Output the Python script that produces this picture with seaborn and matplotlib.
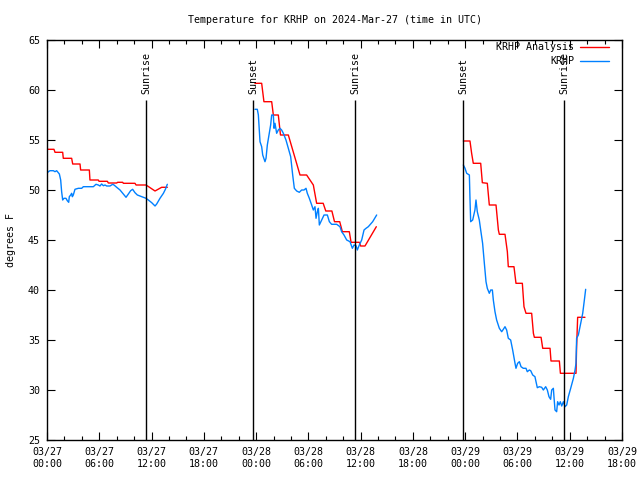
import matplotlib
matplotlib.use("Agg")
import matplotlib.pyplot as plt
import matplotlib.dates as mdates
from matplotlib.lines import Line2D
import seaborn as sns
import pandas as pd

# horas desde 2024-03-27 00:00 UTC
inicio = pd.Timestamp("2024-03-27 00:00")

# KRHP Analysis (rojo), tres tramos
ana_h1 = [0.0, 0.8, 0.92, 1.8, 1.87, 2.83, 2.95, 3.79, 3.86, 4.86, 4.93, 5.89, 5.97, 6.93,
          7.04, 8.0, 8.11, 8.69, 8.76, 10.1, 10.22, 11.37, 12.4, 13.16, 13.81]
ana_t1 = [54.07, 54.07, 53.77, 53.77, 53.17, 53.17, 52.6, 52.6, 52.0, 52.0, 51.0, 51.0, 50.87, 50.87,
          50.7, 50.7, 50.77, 50.77, 50.67, 50.67, 50.5, 50.5, 49.9, 50.27, 50.27]
ana_h2 = [23.87, 24.64, 24.9, 25.79, 25.98, 26.55, 26.8, 27.7, 29.04, 29.8, 30.57, 30.95, 31.7,
          32.0, 32.7, 33.0, 33.6, 33.9, 34.7, 34.9, 35.85, 36.0, 36.5, 37.8]
ana_t2 = [60.67, 60.67, 58.83, 58.83, 57.5, 57.5, 55.5, 55.5, 51.5, 51.5, 50.5, 48.67, 48.67,
          47.9, 47.9, 46.83, 46.83, 45.83, 45.83, 44.77, 44.77, 44.4, 44.4, 46.33]
ana_h3 = [47.79, 48.55, 48.74, 48.93, 49.78, 49.97, 50.54, 50.77, 51.54, 51.81, 51.92, 52.57,
          52.84, 52.95, 53.6, 53.83, 54.56, 54.75, 54.98, 55.63, 55.83, 55.94, 56.71, 56.9,
          57.74, 57.85, 58.81, 58.93, 60.72, 60.79, 60.91, 61.75]
ana_t3 = [54.9, 54.9, 53.67, 52.67, 52.67, 50.73, 50.67, 48.5, 48.5, 46.0, 45.57, 45.57,
          43.83, 42.33, 42.33, 40.67, 40.67, 38.33, 37.67, 37.67, 35.67, 35.27, 35.27, 34.17,
          34.17, 32.9, 32.9, 31.67, 31.67, 34.33, 37.27, 37.27]

# KRHP observado (azul), tres tramos
obs_h1 = [0.0, 0.15, 0.34, 0.73, 0.92, 1.11, 1.42, 1.57, 1.68, 1.8, 1.95, 2.18, 2.33, 2.49,
          2.56, 2.72, 2.83, 2.91, 3.02, 3.21, 3.6, 3.98, 4.17, 5.32, 5.62, 5.89, 6.08, 6.27,
          6.47, 6.66, 6.85, 7.23, 7.54, 7.69, 8.0, 8.38, 8.76, 9.07, 9.34, 9.6, 9.83, 10.1,
          10.37, 10.67, 11.06, 11.37, 11.63, 12.02, 12.4, 12.59, 12.97, 13.36, 13.59, 13.81]
obs_t1 = [51.67, 51.83, 51.93, 51.93, 51.83, 51.93, 51.6, 51.0, 49.83, 49.0, 49.17, 49.17, 48.93, 48.77,
          49.33, 49.5, 49.67, 49.33, 49.5, 50.07, 50.17, 50.17, 50.33, 50.33, 50.57, 50.5, 50.4, 50.6,
          50.43, 50.5, 50.4, 50.4, 50.57, 50.5, 50.27, 50.0, 49.6, 49.27, 49.6, 49.93, 50.07, 49.73,
          49.5, 49.4, 49.27, 49.17, 49.0, 48.73, 48.4, 48.6, 49.17, 49.67, 50.07, 50.57]
obs_h2 = [23.87, 24.14, 24.26, 24.45, 24.64, 24.76, 25.02, 25.14, 25.29, 25.48, 25.67, 25.79,
          25.98, 26.06, 26.17, 26.36, 26.55, 26.74, 26.93, 27.13, 27.43, 27.7, 27.97, 28.2,
          28.39, 28.66, 28.96, 29.23, 29.5, 29.73, 29.88, 30.11, 30.38, 30.57, 30.76, 30.88,
          31.03, 31.15, 31.26, 31.53, 31.8, 32.18, 32.41, 32.67, 33.25, 33.63, 33.82, 34.09,
          34.4, 34.78, 35.05, 35.24, 35.47, 35.62, 35.85, 36.12, 36.39, 36.62, 36.88, 37.38, 37.84]
obs_t2 = [58.07, 58.07, 57.5, 54.83, 54.33, 53.5, 52.83, 53.17, 54.5, 55.5, 56.5, 57.5,
          57.5, 56.17, 56.67, 55.67, 56.0, 56.17, 56.0, 55.67, 55.0, 54.17, 53.33, 51.5,
          50.17, 49.9, 49.77, 50.0, 50.0, 50.17, 49.67, 49.17, 48.5, 48.0, 48.33, 47.17,
          47.83, 48.17, 46.5, 47.0, 47.5, 47.5, 46.83, 46.57, 46.57, 46.33, 45.83, 45.5,
          45.0, 44.83, 44.17, 44.5, 44.43, 44.0, 44.5, 45.0, 46.0, 46.17, 46.33, 46.83, 47.5]
obs_h3 = [47.79, 47.98, 48.17, 48.48, 48.55, 48.63, 48.86, 49.12, 49.24, 49.39, 49.62, 49.78,
          50.0, 50.2, 50.39, 50.54, 50.77, 50.93, 51.12, 51.23, 51.42, 51.61, 51.92, 52.19,
          52.38, 52.57, 52.76, 52.95, 53.22, 53.45, 53.72, 53.83, 54.02, 54.22, 54.41, 54.67,
          54.98, 55.13, 55.36, 55.52, 55.75, 56.01, 56.13, 56.28, 56.51, 56.78, 56.97, 57.24,
          57.43, 57.62, 57.81, 57.93, 58.12, 58.19, 58.31, 58.5, 58.61, 58.77, 58.92, 59.08,
          59.27, 59.46, 59.65, 59.84, 60.11, 60.42, 60.61, 60.72, 60.79, 60.99, 61.26, 61.49,
          61.68, 61.83]
obs_t3 = [52.5, 52.17, 51.67, 51.5, 49.17, 46.83, 47.0, 48.0, 49.0, 47.83, 47.0, 46.0,
          44.67, 42.67, 40.83, 40.17, 39.67, 40.0, 40.0, 39.0, 37.83, 37.0, 36.17, 35.83,
          36.07, 36.33, 36.0, 35.17, 35.0, 34.0, 32.67, 32.17, 32.67, 32.83, 32.33, 32.17,
          32.17, 31.83, 32.0, 31.93, 31.5, 31.33, 30.83, 30.23, 30.33, 30.27, 30.0, 30.33,
          30.0, 29.33, 29.07, 30.0, 30.17, 29.33, 28.0, 27.83, 28.83, 28.5, 28.83, 28.4,
          28.83, 28.33, 28.5, 29.33, 30.17, 31.17, 32.0, 32.67, 35.17, 35.5, 36.67, 37.67,
          39.0, 40.07]

# Salida / puesta de sol (horas desde inicio)
eventos = ["Sunrise", "Sunset", "Sunrise", "Sunset", "Sunrise"]
eventos_h = [11.38, 23.67, 35.35, 47.78, 59.38]

# Construimos la tabla larga
partes = []
for nombre, tramos in [("KRHP Analysis", [(ana_h1, ana_t1), (ana_h2, ana_t2), (ana_h3, ana_t3)]),
                       ("KRHP", [(obs_h1, obs_t1), (obs_h2, obs_t2), (obs_h3, obs_t3)])]:
    for i, (hh, tt) in enumerate(tramos):
        partes.append(pd.DataFrame({"hora": hh, "temp": tt, "serie": nombre, "tramo": f"{nombre}_{i}"}))
df = pd.concat(partes, ignore_index=True)
df["time"] = inicio + pd.to_timedelta(df["hora"], unit="h")

colores = {"KRHP Analysis": "#ff0000", "KRHP": "#0080ff"}

sns.set_style("ticks")
plt.rcParams["font.family"] = ["DejaVu Sans Mono", "DejaVu Sans"]
plt.rcParams["font.size"] = 7.2
for clave in ["text.color", "axes.labelcolor", "xtick.color", "ytick.color"]:
    plt.rcParams[clave] = "black"

fig = plt.figure(figsize=(6.4, 4.8), dpi=100)
ax = fig.add_axes([47 / 640, 40 / 480, 575 / 640, 400 / 480])

sns.lineplot(data=df, x="time", y="temp", hue="serie", units="tramo", estimator=None,
             sort=False, palette=colores, linewidth=1.0, legend=False, ax=ax)

# Lineas verticales de salida/puesta del sol
for nombre, h in zip(eventos, eventos_h):
    t = inicio + pd.Timedelta(hours=h)
    ax.vlines(t, 25, 59, color="black", linewidth=1.0)
    ax.text(t, 59.6, nombre, rotation=90, ha="center", va="bottom", fontsize=7.2)

ax.set_xlim(inicio, inicio + pd.Timedelta(hours=66))
ax.set_ylim(25, 65)
ax.set_yticks(range(25, 66, 5))
ax.xaxis.set_major_locator(mdates.HourLocator(byhour=[0, 6, 12, 18]))
ax.xaxis.set_minor_locator(mdates.HourLocator(byhour=range(0, 24, 2)))
ax.xaxis.set_major_formatter(mdates.DateFormatter("%m/%d\n%H:%M"))
ax.tick_params(which="both", direction="in", top=True, right=True, color="black")
ax.tick_params(which="major", length=6, width=0.8, pad=5)
ax.tick_params(which="minor", length=3, width=0.8)
for s in ax.spines.values():
    s.set_linewidth(1.0)
    s.set_color("black")

ax.set_xlabel("")
ax.set_ylabel("degrees F", labelpad=9)
ax.set_title("Temperature for KRHP on 2024-Mar-27 (time in UTC)", pad=12, fontsize=7.2)

handles = [Line2D([], [], color=colores[k], linewidth=1.0) for k in colores]
ax.legend(handles, list(colores), loc="upper right", bbox_to_anchor=(0.985, 1.005),
          frameon=False, markerfirst=False, handlelength=2.9, handletextpad=0.6,
          labelspacing=0.4, borderaxespad=0, fontsize=7.2)

fig.savefig("out.png", dpi=100)
